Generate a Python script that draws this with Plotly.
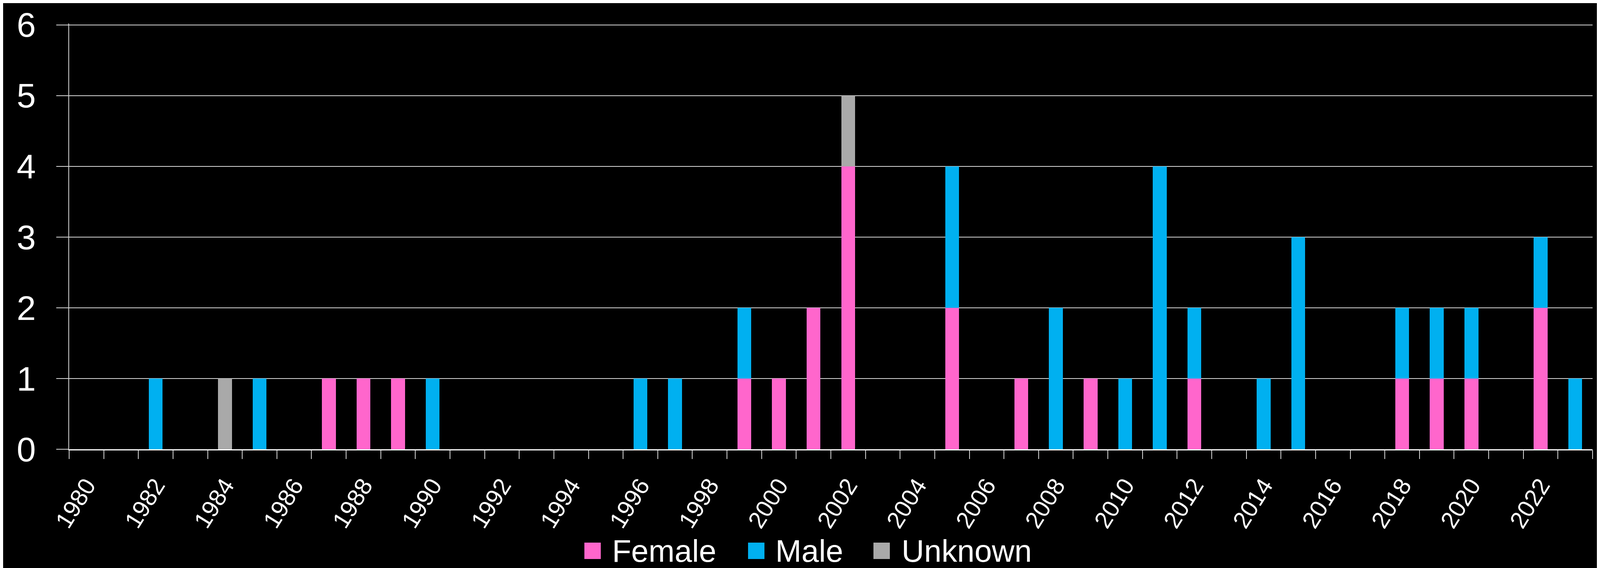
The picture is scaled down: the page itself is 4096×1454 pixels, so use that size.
import plotly.graph_objects as go

# ---------------- data ----------------
years = [1980, 1981, 1982, 1983, 1984, 1985, 1986, 1987, 1988, 1989,
         1990, 1991, 1992, 1993, 1994, 1995, 1996, 1997, 1998, 1999,
         2000, 2001, 2002, 2003, 2004, 2005, 2006, 2007, 2008, 2009,
         2010, 2011, 2012, 2013, 2014, 2015, 2016, 2017, 2018, 2019,
         2020, 2021, 2022, 2023]
female = [0, 0, 0, 0, 0, 0, 0, 1, 1, 1,
          0, 0, 0, 0, 0, 0, 0, 0, 0, 1,
          1, 2, 4, 0, 0, 2, 0, 1, 0, 1,
          0, 0, 1, 0, 0, 0, 0, 0, 1, 1,
          1, 0, 2, 0]
male = [0, 0, 1, 0, 0, 1, 0, 0, 0, 0,
        1, 0, 0, 0, 0, 0, 1, 1, 0, 1,
        0, 0, 0, 0, 0, 2, 0, 0, 2, 0,
        1, 4, 1, 0, 1, 3, 0, 0, 1, 1,
        1, 0, 1, 1]
unknown = [0, 0, 0, 0, 1, 0, 0, 0, 0, 0,
           0, 0, 0, 0, 0, 0, 0, 0, 0, 0,
           0, 0, 1, 0, 0, 0, 0, 0, 0, 0,
           0, 0, 0, 0, 0, 0, 0, 0, 0, 0,
           0, 0, 0, 0]
series_names = ["Female", "Male", "Unknown"]
series_colors = ["#FF66CC", "#00B0F0", "#A9A9A9"]
x_tick_years = [1980, 1982, 1984, 1986, 1988, 1990, 1992, 1994, 1996, 1998,
                2000, 2002, 2004, 2006, 2008, 2010, 2012, 2014, 2016, 2018,
                2020, 2022]
y_ticks = [0, 1, 2, 3, 4, 5, 6]

# ---------------- layout constants ----------------
W, H = 4096, 1454
L, R, T, B = 169, 27, 52, 312
plot_w = W - L - R
plot_h = H - T - B

def px_x(p):
    return (p - L) / plot_w

def px_y(p):
    return (H - B - p) / plot_h

fig = go.Figure()
for name, vals, col in zip(series_names, [female, male, unknown], series_colors):
    fig.add_trace(go.Bar(
        x=years, y=vals, name=name, width=0.4,
        marker=dict(color=col, line=dict(width=0)),
        showlegend=False,
    ))

boundaries = [y - 0.5 for y in years] + [years[-1] + 0.5]

fig.update_layout(
    template="none",
    width=W, height=H,
    barmode="stack",
    paper_bgcolor="black",
    plot_bgcolor="black",
    margin=dict(l=L, r=R, t=T, b=B, autoexpand=False),
    showlegend=False,
    xaxis=dict(
        range=[years[0] - 0.5, years[-1] + 0.5],
        tickmode="array",
        tickvals=x_tick_years,
        ticktext=[str(v) for v in x_tick_years],
        tickangle=-58,
        ticks="",
        ticklabelstandoff=30,
        tickfont=dict(family="Liberation Sans", size=61, color="white"),
        showgrid=False,
        zeroline=False,
        showline=True,
        linecolor="white",
        linewidth=2.5,
        automargin=False,
        minor=dict(
            tickmode="array",
            tickvals=boundaries,
            ticks="outside",
            ticklen=22,
            tickwidth=1.5,
            tickcolor="#D9D9D9",
            showgrid=False,
        ),
    ),
    yaxis=dict(
        range=[0, 6.02],
        tickmode="array",
        tickvals=y_ticks,
        ticktext=[str(v) for v in y_ticks],
        ticks="outside",
        ticklen=31,
        tickwidth=1.5,
        tickcolor="#D9D9D9",
        ticklabelstandoff=35,
        ticklabeloverflow="allow",
        tickfont=dict(family="Liberation Sans", size=88, color="white"),
        showgrid=True,
        gridcolor="#D9D9D9",
        gridwidth=1.5,
        zeroline=False,
        showline=True,
        linecolor="#D9D9D9",
        linewidth=1.5,
        automargin=False,
    ),
)

# ---------------- custom legend ----------------
legend_swatch_left = [1488, 1907, 2228]
legend_text_left = [1557, 1975, 2298]
sw = 42
sw_center = 1402
for name, col, sx, tx in zip(series_names, series_colors, legend_swatch_left, legend_text_left):
    fig.add_shape(
        type="rect", xref="paper", yref="paper",
        x0=px_x(sx), x1=px_x(sx + sw),
        y0=px_y(sw_center + sw / 2), y1=px_y(sw_center - sw / 2),
        fillcolor=col, line=dict(width=0),
    )
    fig.add_annotation(
        xref="paper", yref="paper",
        x=px_x(tx), y=px_y(sw_center),
        xanchor="left", yanchor="middle",
        text=name, showarrow=False,
        font=dict(family="Liberation Sans", size=80, color="white"),
    )

fig.write_html("out.html")
